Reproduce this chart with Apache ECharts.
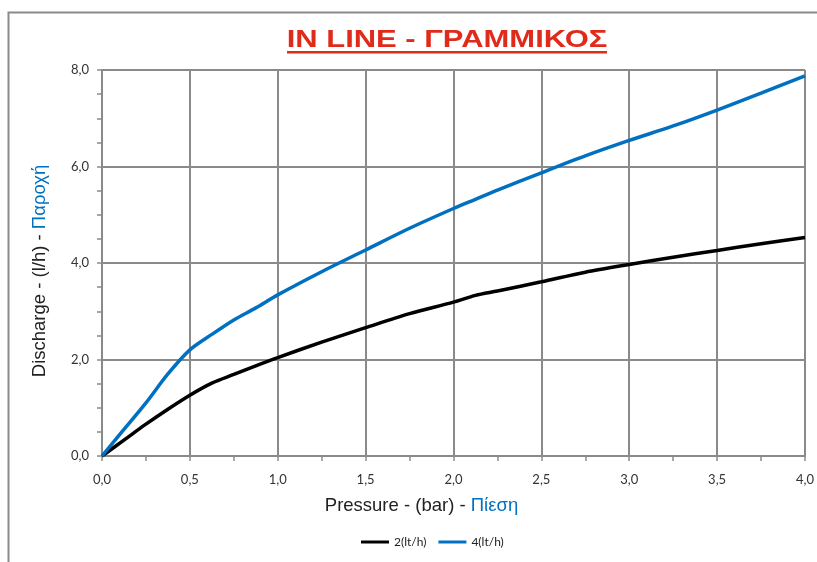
<!DOCTYPE html>
<html>
<head>
<meta charset="utf-8">
<script src="https://cdn.jsdelivr.net/npm/echarts@6/dist/echarts.min.js"></script>
<style>
  html, body { margin: 0; padding: 0; background: #fff; }
  #main { width: 817px; height: 562px; }
</style>
</head>
<body>
<div id="main"></div>
<script>
// pressure (bar)
const pressure = [0, 0.125, 0.25, 0.375, 0.5, 0.625, 0.75, 0.875, 1.0, 1.25, 1.5, 1.75, 2.0, 2.125, 2.25, 2.5, 2.75, 3.0, 3.25, 3.5, 3.75, 4.0];
// discharge 2 lt/h
const flow2 = [0, 0.33, 0.66, 0.97, 1.26, 1.51, 1.69, 1.87, 2.04, 2.36, 2.66, 2.95, 3.19, 3.33, 3.42, 3.61, 3.81, 3.97, 4.12, 4.26, 4.40, 4.53];
// discharge 4 lt/h
const flow4 = [0, 0.55, 1.10, 1.70, 2.20, 2.52, 2.82, 3.07, 3.34, 3.82, 4.27, 4.72, 5.13, 5.32, 5.51, 5.87, 6.22, 6.54, 6.84, 7.17, 7.52, 7.88];

const seriesNames = ['2(lt/h)', '4(lt/h)'];
const seriesColors = ['#000000', '#0070c0'];

const gridColor = '#8a8a8a';
const labelFont = 'Lato, "DejaVu Sans", sans-serif';
const titleFont = '"Liberation Sans", Arial, sans-serif';
const fmt = v => v.toFixed(1).replace('.', ',');

const myChart = echarts.init(document.getElementById('main'));

const option = {
  backgroundColor: '#fff',
  animation: false,
  graphic: [
    // chart frame (left + top edge)
    { type: 'polyline', shape: { points: [[8.5, 562], [8.5, 12.5], [817, 12.5]] },
      style: { stroke: '#8a8a8a', lineWidth: 2, fill: null } },
    // title, stretched wide like the original
    { type: 'text', x: 447, y: 40, scaleX: 1.29,
      style: { text: 'IN LINE - ΓΡΑΜΜΙΚΟΣ', fill: '#e02b1b', align: 'center', verticalAlign: 'middle',
               font: 'bold 24px ' + titleFont } },
    { type: 'rect', shape: { x: 287, y: 51, width: 320, height: 2.5 }, style: { fill: '#e02b1b' } }
  ],
  legend: {
    top: 531,
    left: 356,
    itemWidth: 28,
    itemHeight: 3,
    itemGap: 12,
    icon: 'rect',
    textStyle: { fontFamily: labelFont, fontSize: 12, color: '#222' },
    data: seriesNames
  },
  grid: { left: 102, right: 7, top: 70, bottom: 106 },
  xAxis: {
    type: 'value',
    min: 0, max: 4, interval: 0.5,
    name: '{a|Pressure - (bar) - }{b|Πίεση}',
    nameLocation: 'middle',
    nameGap: 40,
    nameTextStyle: {
      padding: [0, 64, 0, 0],
      rich: {
        a: { fontFamily: titleFont, fontSize: 18.5, color: '#222' },
        b: { fontFamily: titleFont, fontSize: 18.5, color: '#0070c0' }
      }
    },
    axisLine: { show: true, lineStyle: { color: gridColor, width: 2 } },
    axisTick: { show: true, length: 5, lineStyle: { color: gridColor, width: 1.5 } },
    minorTick: { show: true, splitNumber: 2, length: 5, lineStyle: { color: gridColor, width: 1.5 } },
    splitLine: { show: true, lineStyle: { color: gridColor, width: 2 } },
    axisLabel: { formatter: fmt, fontFamily: labelFont, fontSize: 13, color: '#333', margin: 17 }
  },
  yAxis: {
    type: 'value',
    min: 0, max: 8, interval: 2,
    name: '{a|Discharge - (l/h) - }{b|Παροχή}',
    nameLocation: 'middle',
    nameGap: 53,
    nameTextStyle: {
      padding: [0, 16, 0, 0],
      rich: {
        a: { fontFamily: titleFont, fontSize: 18.5, color: '#222' },
        b: { fontFamily: titleFont, fontSize: 18.5, color: '#0070c0' }
      }
    },
    axisLine: { show: true, lineStyle: { color: gridColor, width: 2 } },
    axisTick: { show: true, length: 5, lineStyle: { color: gridColor, width: 1.5 } },
    minorTick: { show: true, splitNumber: 4, length: 5, lineStyle: { color: gridColor, width: 1.5 } },
    splitLine: { show: true, lineStyle: { color: gridColor, width: 2 } },
    axisLabel: { formatter: fmt, fontFamily: labelFont, fontSize: 13, color: '#333', margin: 13 }
  },
  series: [
    {
      name: seriesNames[0],
      type: 'line',
      smooth: 0.3,
      showSymbol: false,
      color: seriesColors[0],
      lineStyle: { width: 3.5, color: seriesColors[0] },
      data: pressure.map((p, i) => [p, flow2[i]])
    },
    {
      name: seriesNames[1],
      type: 'line',
      smooth: 0.3,
      showSymbol: false,
      color: seriesColors[1],
      lineStyle: { width: 3.5, color: seriesColors[1] },
      data: pressure.map((p, i) => [p, flow4[i]])
    }
  ]
};

option && myChart.setOption(option);
</script>
</body>
</html>
